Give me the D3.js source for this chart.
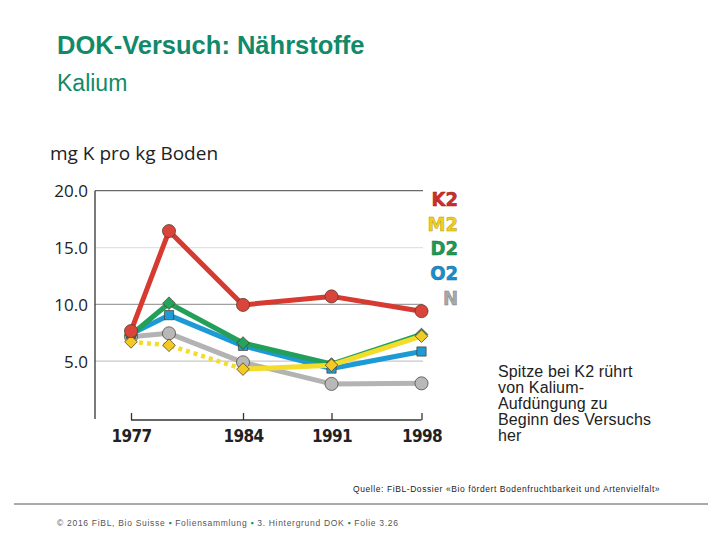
<!DOCTYPE html>
<html><head><meta charset="utf-8">
<script src="https://cdn.jsdelivr.net/npm/d3@7/dist/d3.min.js"></script>
<style>
body{margin:0;background:#fff;}
svg{display:block;}
</style></head>
<body>
<svg id="c" width="720" height="540"></svg>
<script>
const years = [1977, 1979, 1984, 1991, 1998];
const tickYears = [1977, 1984, 1991, 1998];
const yTicks = [5, 10, 15, 20];
const seriesNames = ["N", "O2", "D2", "M2", "K2"];
const valuesN  = [7.15, 7.45, 4.9, 3.0, 3.05];
const valuesO2 = [7.4, 9.05, 6.35, 4.35, 5.85];
const valuesD2 = [7.3, 10.1, 6.6, 4.75, 7.35];
const valuesM2 = [6.7, 6.4, 4.3, 4.65, 7.2];
const valuesK2 = [7.65, 16.45, 9.95, 10.7, 9.4];
const legendOrder = ["K2", "M2", "D2", "O2", "N"];
const annotationLines = ["Spitze bei K2 rührt", "von Kalium-", "Aufdüngung zu", "Beginn des Versuchs", "her"];
const footerParts = ["© 2016 FiBL, Bio Suisse", "Foliensammlung", "3. Hintergrund DOK", "Folie 3.26"];

const colors = {K2:"#d63a30", M2:"#f4dc2a", D2:"#22a05a", O2:"#1d9ad6", N:"#b3b3b3"};
const markerFill = {K2:"#d9453a", M2:"#f3c923", D2:"#25a25c", O2:"#1e9bd7", N:"#b8b8b8"};
const legendColors = {K2:"#cf2f2a", M2:"#f0cf22", D2:"#1e9a55", O2:"#1a8fcc", N:"#a9a9a9"};
const markerShape = {K2:"circle", M2:"diamond", D2:"diamond", O2:"square", N:"circle"};
const data = {N:valuesN, O2:valuesO2, D2:valuesD2, M2:valuesM2, K2:valuesK2};

const svg = d3.select("#c");

// Title
svg.append("text").attr("x",57).attr("y",54).attr("fill","#118a6a")
  .attr("font-family","Liberation Sans, Arial, sans-serif").attr("font-weight","bold").attr("font-size",25.5)
  .text("DOK-Versuch: Nährstoffe");
svg.append("text").attr("x",57).attr("y",91).attr("fill","#118a6a")
  .attr("font-family","Liberation Sans, Arial, sans-serif").attr("font-size",23)
  .text("Kalium");

// Scales
const x = d3.scaleLinear().domain(years).range([131, 169, 243, 331.5, 421.5]);
const y = d3.scaleLinear().domain([0, 20]).range([418, 190.7]);

// Y axis title
svg.append("text").attr("x",50).attr("y",160).attr("fill","#222")
  .attr("font-family","Open Sans, Lato, sans-serif").attr("font-size",19)
  .text("mg K pro kg Boden");

// Gridlines
const gridStroke = {5:"#c8c8c8", 10:"#a0a0a0", 15:"#e2e2e2", 20:"#6a6a6a"};
svg.append("g").selectAll("line").data(yTicks).join("line")
  .attr("x1",95).attr("x2",423)
  .attr("y1",d=>y(d)).attr("y2",d=>y(d))
  .attr("stroke",d=>gridStroke[d]).attr("stroke-width",d=>d===20?1.2:1.3);

// Y axis via d3
const yAxis = d3.axisLeft(y).tickValues(yTicks).tickFormat(d3.format(".1f")).tickSize(0).tickPadding(7);
const gy = svg.append("g").attr("transform","translate(95,0)").call(yAxis);
gy.select(".domain").attr("d",`M0,${y(20)}V${y(0)+1}`).attr("stroke","#333").attr("stroke-width",1.3);
gy.selectAll("text").attr("font-family","Open Sans, Lato, sans-serif").attr("font-size",17).attr("fill","#222")
  .attr("dy","0.36em");

// X axis via d3
const xAxis = d3.axisBottom(x).tickValues(tickYears).tickFormat(d3.format("d")).tickSize(-7).tickPadding(10);
const gx = svg.append("g").attr("transform","translate(0,420)").call(xAxis);
gx.select(".domain").attr("d",`M${x(1977)},0H${x(1998)}`).attr("stroke","#333").attr("stroke-width",1.3);
gx.selectAll(".tick line").attr("stroke","#333").attr("stroke-width",1.3);
gx.selectAll("text").attr("font-family","Liberation Sans Narrow, Arial Narrow, DejaVu Sans Condensed, sans-serif")
  .attr("font-weight","bold").attr("font-size",17).attr("fill","#222").attr("dy","0.71em")
  .attr("letter-spacing",-0.6);

// Lines + markers per series
const line = d3.line().x(d=>x(d[0])).y(d=>y(d[1]));
seriesNames.forEach(name=>{
  const pts = years.map((yr,i)=>[yr, data[name][i]]);
  const g = svg.append("g");
  if(name==="M2"){
    g.append("path").attr("d",line(pts.slice(0,3))).attr("fill","none")
      .attr("stroke",colors[name]).attr("stroke-width",4.5).attr("stroke-dasharray","4 4");
    g.append("path").attr("d",line(pts.slice(2))).attr("fill","none")
      .attr("stroke",colors[name]).attr("stroke-width",5).attr("stroke-linejoin","round");
  } else {
    g.append("path").attr("d",line(pts)).attr("fill","none")
      .attr("stroke",colors[name]).attr("stroke-width",5).attr("stroke-linejoin","round");
  }
  const shape = markerShape[name];
  const sym = shape==="circle"?d3.symbolCircle:d3.symbolSquare;
  const size = shape==="circle"?135:(shape==="square"?85:80);
  g.selectAll("path.m").data(pts).join("path").attr("class","m")
    .attr("d",d3.symbol().type(sym).size(size))
    .attr("transform",d=>`translate(${x(d[0])},${y(d[1])})`+(shape==="diamond"?" rotate(45)":""))
    .attr("fill",markerFill[name]).attr("stroke","#4a3a2a").attr("stroke-width",0.7);
});

// Legend
svg.append("g").selectAll("text").data(legendOrder).join("text")
  .attr("x",458).attr("y",(d,i)=>206+i*24.7).attr("text-anchor","end")
  .attr("font-family","Liberation Sans Narrow, Arial Narrow, DejaVu Sans Condensed, sans-serif")
  .attr("font-weight","bold").attr("font-size",20)
  .attr("fill",d=>legendColors[d]).attr("stroke",d=>d3.color(legendColors[d]).darker(0.8)).attr("stroke-width",0.5)
  .text(d=>d);

// Annotation
svg.append("g").selectAll("text").data(annotationLines).join("text")
  .attr("x",498).attr("y",(d,i)=>376.5+i*16)
  .attr("font-family","Liberation Sans, Arial, sans-serif").attr("font-size",16).attr("fill","#222")
  .attr("letter-spacing",0.15)
  .text(d=>d);

// Source
svg.append("text").attr("x",353).attr("y",492)
  .attr("font-family","Liberation Sans, Arial, sans-serif").attr("font-size",8.5).attr("fill","#222")
  .attr("letter-spacing",0.58)
  .text("Quelle: FiBL-Dossier «Bio fördert Bodenfruchtbarkeit und Artenvielfalt»");
svg.append("line").attr("x1",14).attr("x2",708).attr("y1",504).attr("y2",504)
  .attr("stroke","#555").attr("stroke-width",1);

// Footer
const ft = svg.append("text").attr("x",57).attr("y",526)
  .attr("font-family","Liberation Sans, Arial, sans-serif").attr("font-size",8.5).attr("fill","#555")
  .attr("letter-spacing",0.7);
footerParts.forEach((t,i)=>{
  if(i>0) ft.append("tspan").attr("fill","#138a6c").text("  ▪  ");
  ft.append("tspan").text(t);
});
</script>
</body></html>
